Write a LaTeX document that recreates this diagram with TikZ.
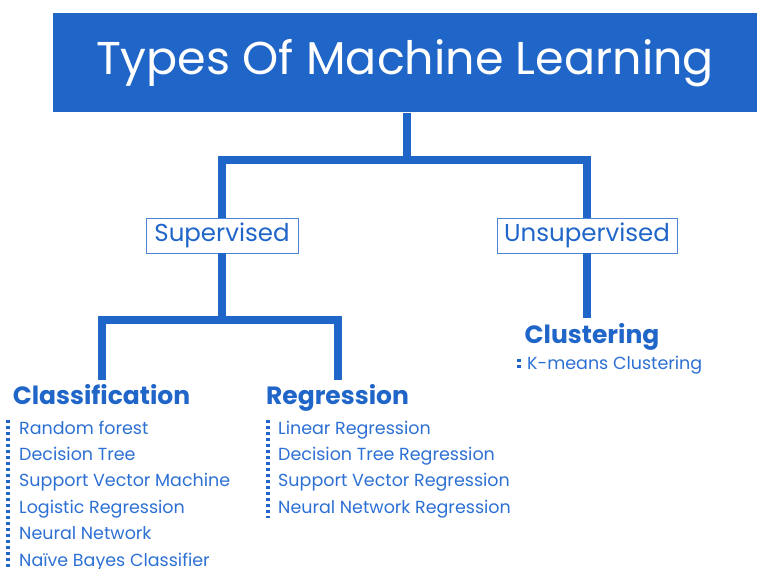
\documentclass[tikz,border=0pt]{standalone}
\usepackage{fontspec}
\setmainfont{Poppins}
\usetikzlibrary{positioning}
\definecolor{mlblue}{RGB}{32,101,200}
\definecolor{itemblue}{RGB}{45,112,212}

\begin{document}
\begin{tikzpicture}[x=1pt, y=-1pt, node distance=26.4pt]
        % Define block styles
        \tikzstyle{title} = [rectangle, fill=mlblue, text=white, 
            minimum width=704pt, minimum height=99pt, font=\fontsize{46}{50}\selectfont]
        \tikzstyle{kind} = [rectangle, draw=mlblue!80, line width=0.9pt, text=mlblue, 
            minimum height=35pt, inner xsep=2pt, font=\fontsize{24.5}{28}\selectfont]
        \tikzstyle{head} = [text=mlblue, inner sep=0pt, anchor=base, 
            font=\bfseries\fontsize{25}{29}\selectfont]
        \tikzstyle{item} = [text=itemblue, inner sep=0pt, anchor=base west, 
            font=\fontsize{17.5}{21}\selectfont]
        \tikzstyle{line} = [draw=mlblue, line width=8pt]
        \tikzstyle{dots} = [draw=mlblue, line width=3.5pt, dash pattern=on 3pt off 3pt]

        \useasboundingbox (0,0) rectangle (757,569);

        % Nodes
        \node [title] (ml) at (405,63) {Types Of Machine Learning};
        \node [kind, minimum width=152pt] (sup) at (222,235.5) {Supervised};
        \node [kind, minimum width=180pt] (unsup) at (587,235.5) {Unsupervised};
        \node [head] (cls) at (101.5,404) {Classification};
        \node [head] (reg) at (337.5,404) {Regression};
        \node [head] (clu) at (592,343) {Clustering};
        \coordinate (top) at (407,160);
        \coordinate (split) at (222,320);

        % Classification list
        \node [item] (rf) at (19,434) {Random forest};
        \node [item, below=of rf.base west, anchor=base west] (dt) {Decision Tree};
        \node [item, below=of dt.base west, anchor=base west] (svm) {Support Vector Machine};
        \node [item, below=of svm.base west, anchor=base west] (lr) {Logistic Regression};
        \node [item, below=of lr.base west, anchor=base west] (nn) {Neural Network};
        \node [item, below=of nn.base west, anchor=base west] (nb) {Naïve Bayes Classifier};

        % Regression list
        \node [item] (lin) at (278,434) {Linear Regression};
        \node [item, below=of lin.base west, anchor=base west] (dtr) {Decision Tree Regression};
        \node [item, below=of dtr.base west, anchor=base west] (svr) {Support Vector Regression};
        \node [item, below=of svr.base west, anchor=base west] (nnr) {Neural Network Regression};

        % Clustering list
        \node [item] (km) at (527,369) {K-means Clustering};

        % Connectors
        \path [line] (ml.south -| top) -- (top);
        \path [line] (sup.north) |- (top) -| (unsup.north);
        \path [line] (sup.south) -- (split);
        \path [line, shorten <=4pt, shorten >=4pt] (cls.north) |- (split) -| (reg.north);
        \path [line, shorten >=5pt] (unsup.south) -- (unsup.south |- clu.north);

        % Dotted bars
        \path [dots] ([xshift=-11pt]rf.north west) -- ([xshift=-11pt]nb.south west);
        \path [dots] ([xshift=-10pt]lin.north west) -- ([xshift=-10pt]nnr.south west);
        \path [dots] ([xshift=-8pt,yshift=-4pt]km.north west) -- ([xshift=-8pt]km.base west);
    \end{tikzpicture}
\end{document}
